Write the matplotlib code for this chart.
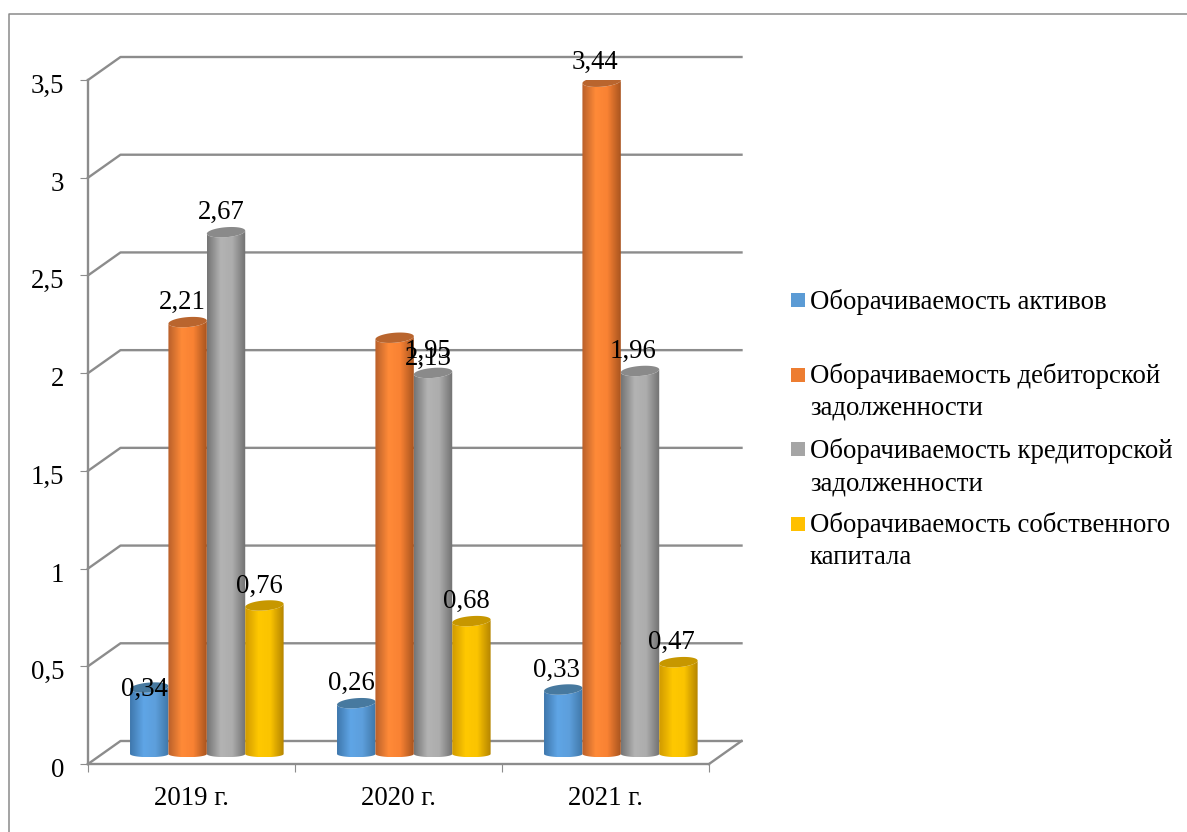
import matplotlib
matplotlib.use('Agg')
import matplotlib.pyplot as plt
import numpy as np
from matplotlib.colors import LinearSegmentedColormap
from matplotlib.lines import Line2D
from matplotlib.patches import PathPatch, Polygon, Rectangle
from matplotlib.path import Path
from matplotlib.transforms import ScaledTranslation

plt.rcParams['font.family'] = ['Liberation Serif', 'DejaVu Serif']

years = ['2019 г.', '2020 г.', '2021 г.']
series_names = ['Оборачиваемость активов',
                'Оборачиваемость дебиторской\nзадолженности',
                'Оборачиваемость кредиторской\nзадолженности',
                'Оборачиваемость собственного\nкапитала']
assets = [0.34, 0.26, 0.33]
receivables = [2.21, 2.13, 3.44]
payables = [2.67, 1.95, 1.96]
equity = [0.76, 0.68, 0.47]
y_ticks = [0, 0.5, 1, 1.5, 2, 2.5, 3, 3.5]

series = [assets, receivables, payables, equity]
legend_colors = ['#5B9BD5', '#ED7D31', '#A5A5A5', '#FFC000']
shades = [['#3f78ad', '#5fa5e6', '#5d9fdc', '#4077a8'],
          ['#b9602a', '#ff8a38', '#f98233', '#a9551f'],
          ['#757575', '#b3b3b3', '#adadad', '#717171'],
          ['#d09a00', '#ffc800', '#fbc400', '#b58500']]
top_colors = ['#47799f', '#b9652e', '#8a8a8a', '#c79700']
GRID = '#8c8c8c'
FS = 19.3

W, H = 1187, 832


def fx(px):
    return px / W


def fy(py):
    return 1 - py / H


fig = plt.figure(figsize=(W / 100, H / 100), dpi=100)
ax = fig.add_axes([fx(88), fy(764), fx(709 - 88), (764 - 80) / H])
ax.set_xlim(0, 3)
ax.set_ylim(0, 3.5)
ax.set_facecolor('none')

# size of one pixel in data units, used for the fake 3d depth
ux = 3 / (709 - 88)
uy = 3.5 / (764 - 80)
dx, dy = 32.5 * ux, 23 * uy

# back wall
for v in y_ticks:
    ax.plot([0, dx, 3 + dx], [v, v + dy, v + dy], color=GRID, lw=1.7, clip_on=False, zorder=1)
ax.plot([3, 3 + dx], [0, dy], color=GRID, lw=1.7, clip_on=False, zorder=1)

for s in ['top', 'right']:
    ax.spines[s].set_visible(False)
for s in ['left', 'bottom']:
    ax.spines[s].set_color(GRID)
    ax.spines[s].set_linewidth(1.7)

ax.set_yticks(y_ticks)
ax.set_yticklabels([str(v).replace('.', ',') for v in y_ticks], fontsize=FS, color='black')
ax.set_xticks(range(4))
ax.set_xticklabels([])
ax.set_xticks([0.5, 1.5, 2.5], minor=True)
ax.set_xticklabels(years, minor=True, fontsize=FS)
ax.tick_params(axis='y', length=6, width=0.8, color=GRID, pad=11)
ax.tick_params(axis='x', which='major', length=6, width=0.8, color=GRID)
ax.tick_params(axis='x', which='minor', length=0, pad=16)
# the value labels sit a little below their ticks
shift = ScaledTranslation(0, -2.5 / 72, fig.dpi_scale_trans)
for lab in ax.get_yticklabels():
    lab.set_transform(lab.get_transform() + shift)

bar_w = 38.4 * ux
base = 10 * uy
ry_top = 5 * uy
tilt = 1.5 * uy
ry_bot = 3.2 * uy
t = np.linspace(0, np.pi, 40)

for k, (vals, shade) in enumerate(zip(series, shades)):
    cmap = LinearSegmentedColormap.from_list('c%d' % k, list(zip([0, 0.35, 0.65, 1], shade)))
    for i, v in enumerate(vals):
        x0 = i + 0.203 + k * bar_w
        xc = x0 + bar_w / 2
        top = base + v
        # body outline: lower arc, then back over the upper rim
        low_x = xc - np.cos(t) * bar_w / 2
        low_y = base - np.sin(t) * ry_bot
        up_x = xc + np.cos(t) * bar_w / 2
        up_y = top - np.sin(t) * ry_top + np.cos(t) * tilt
        verts = np.column_stack([np.r_[low_x, up_x], np.r_[low_y, up_y]])
        clip = PathPatch(Path(np.vstack([verts, verts[:1]])), transform=ax.transData)
        im = ax.imshow(np.linspace(0, 1, 64)[None, :], cmap=cmap, aspect='auto',
                       extent=[x0, x0 + bar_w, base - ry_bot, top + 2 * tilt],
                       interpolation='bilinear', zorder=2 + k)
        im.set_clip_path(clip)
        th = np.linspace(0, 2 * np.pi, 60)
        rim = np.column_stack([xc + np.cos(th) * bar_w / 2,
                               top + np.sin(th) * ry_top + np.cos(th) * tilt])
        ax.add_patch(Polygon(rim, closed=True, facecolor=top_colors[k], edgecolor='none',
                             zorder=2 + k))
ax.set_xlim(0, 3)
ax.set_ylim(0, 3.5)

# data labels, offsets in pixels from the top of the bar
moved = {(0, 0): (-5, -8), (1, 1): (34, -27), (2, 1): (-5, 15)}
for k, vals in enumerate(series):
    for i, v in enumerate(vals):
        xc = i + 0.203 + k * bar_w + bar_w / 2
        off = moved.get((k, i), (-5 if i < 2 else -7, 13))
        ax.annotate(str(v).replace('.', ','), (xc, base + v),
                    xytext=(off[0] * 0.72, off[1] * 0.72), textcoords='offset points',
                    ha='center', va='baseline', fontsize=FS, color='black',
                    annotation_clip=False, zorder=10)

# legend, spaced by hand like the original
legend_top = [293, 368, 442, 517]
legend_base = [309, 415, 490, 564]
for name, col, py, by in zip(series_names, legend_colors, legend_top, legend_base):
    fig.add_artist(Rectangle((fx(791), fy(py + 14)), 14 / W, 14 / H, transform=fig.transFigure,
                             facecolor=col, edgecolor='none'))
    fig.text(fx(810), fy(by), name, fontsize=FS, va='baseline', ha='left', linespacing=1.37)

# frame of the chart area
fig.add_artist(Line2D([fx(9.5), fx(9.5), 1], [0, fy(13.5), fy(13.5)], color='#8a8a8a', lw=1.1,
                      transform=fig.transFigure))

fig.savefig('out.png', dpi=100)
